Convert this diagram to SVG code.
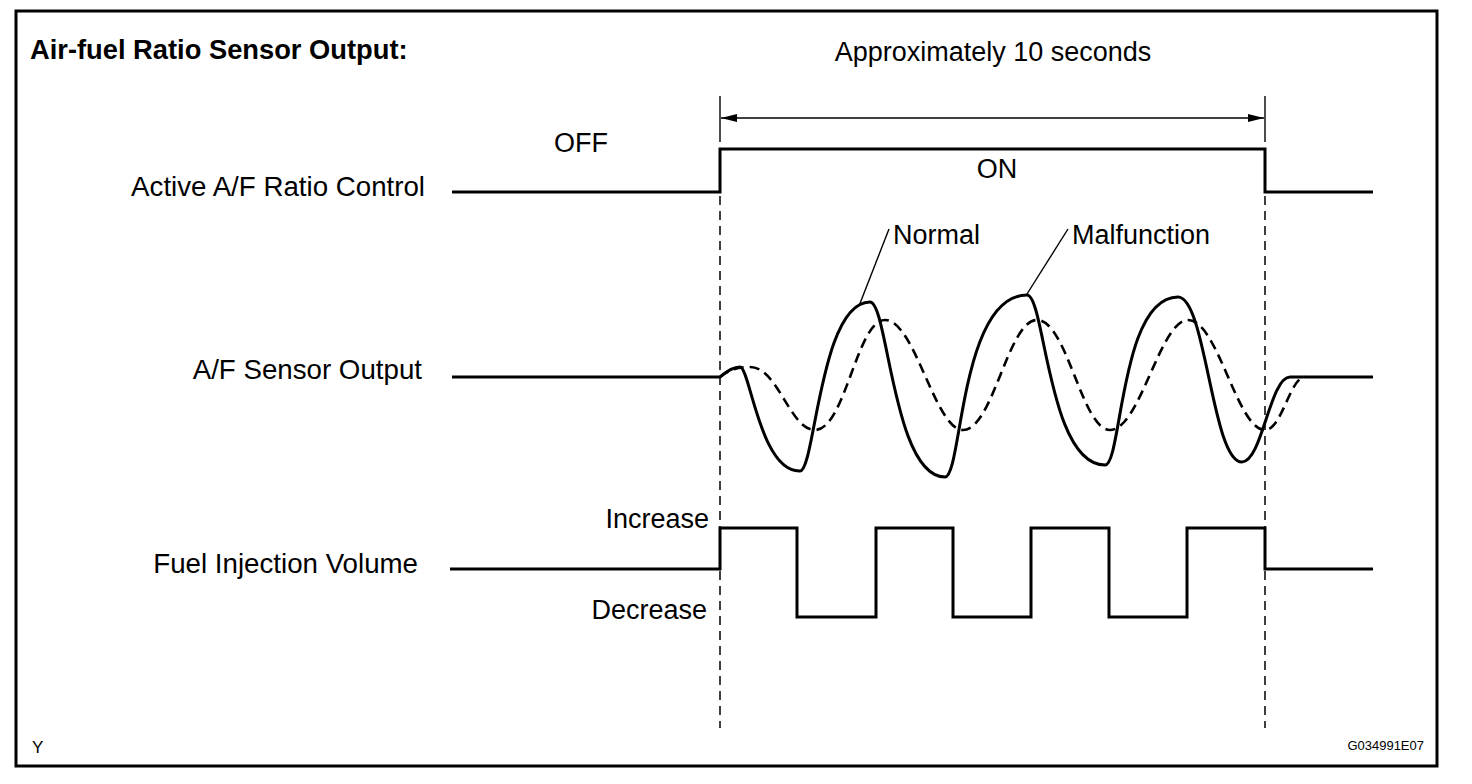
<svg xmlns="http://www.w3.org/2000/svg" width="1472" height="784" viewBox="0 0 1472 784">
<style>
text{font-family:"Liberation Sans",Arial,sans-serif;fill:#000}
.lbl{font-size:27px}
.side{font-size:27.7px}
.sig{fill:none;stroke:#000;stroke-width:3;stroke-linejoin:miter}
.dsig{fill:none;stroke:#000;stroke-width:2.6;stroke-dasharray:10 6}
.vdash{fill:none;stroke:#000;stroke-width:1.5;stroke-dasharray:9 6}
.thin{fill:none;stroke:#000;stroke-width:1.4}
</style>
<defs>
<marker id="ah" viewBox="0 0 16 8" refX="16" refY="4" markerWidth="16" markerHeight="8" markerUnits="userSpaceOnUse" orient="auto-start-reverse">
<path d="M0,0 L16,4 L0,8 Z" fill="#000"/>
</marker>
</defs>
<rect x="0" y="0" width="1472" height="784" fill="#fff"/>
<rect id="frame" x="16" y="11" width="1421" height="755" fill="none" stroke="#000" stroke-width="3"/>
<g id="title"><text x="30" y="59" font-size="27.3" font-weight="bold">Air-fuel Ratio Sensor Output:</text></g>
<g id="duration">
<text class="lbl" x="993" y="61" text-anchor="middle">Approximately 10 seconds</text>
</g>
<g id="active-control">
<text class="side" x="425" y="196" text-anchor="end">Active A/F Ratio Control</text>
<text class="lbl" x="554" y="152">OFF</text>
<text class="lbl" x="997" y="178" text-anchor="middle">ON</text>
<path class="sig" d="M452,192 H720 V149 H1265 V192 H1373"/>
</g>
<g id="af-sensor">
<text class="side" x="422" y="379" text-anchor="end">A/F Sensor Output</text>
<path class="dsig" d="M720,377 C728,370 738,367 750,367 C778,367 790,430 815,430 C845,430 857,320 885,320 C915,320 935,430 963,430 C993,430 1008,320 1037,320 C1067,320 1082,430 1110,430 C1140,430 1160,320 1188,320 C1218,320 1237,430 1265,430 C1282,430 1290,377 1305,377"/>
<path class="sig" stroke-width="2.6" d="M452,377 L720,377 C728,370 734,367 740,367 C750,367 760,472 800,471 C815,471 820,302 870,302 C888,302 893,477 945,477 C962,477 960,295 1027,295 C1045,295 1048,465 1105,465 C1122,465 1120,297 1178,297 C1206,297 1212,462 1242,462 C1262,462 1270,377 1290,377 L1373,377"/>
<text class="lbl" x="893" y="244">Normal</text>
<text class="lbl" x="1072" y="244">Malfunction</text>
</g>
<g id="fuel-injection">
<text class="side" x="418" y="573" text-anchor="end">Fuel Injection Volume</text>
<text class="lbl" x="709" y="528" text-anchor="end">Increase</text>
<text class="lbl" x="707" y="619" text-anchor="end">Decrease</text>
<path class="sig" d="M450,569 H720 V528 H797 V617 H876 V528 H953 V617 H1031 V528 H1109 V617 H1187 V528 H1265 V569 H1373"/>
</g>
<g id="connectors">
<line class="thin" x1="720" y1="96" x2="720" y2="142"/>
<line class="thin" x1="1265" y1="96" x2="1265" y2="142"/>
<line class="thin" x1="721" y1="118" x2="1264" y2="118" marker-start="url(#ah)" marker-end="url(#ah)"/>
<line class="vdash" x1="720" y1="196" x2="720" y2="728"/>
<line class="vdash" x1="1265" y1="196" x2="1265" y2="728"/>
<line class="thin" stroke-width="1.8" x1="859" y1="306" x2="889" y2="229"/>
<line class="thin" stroke-width="1.8" x1="1027" y1="294" x2="1068" y2="229"/>
</g>
<g id="footer">
<text x="32" y="753" font-size="17">Y</text>
<text x="1424" y="750" font-size="13" text-anchor="end">G034991E07</text>
</g>
</svg>
